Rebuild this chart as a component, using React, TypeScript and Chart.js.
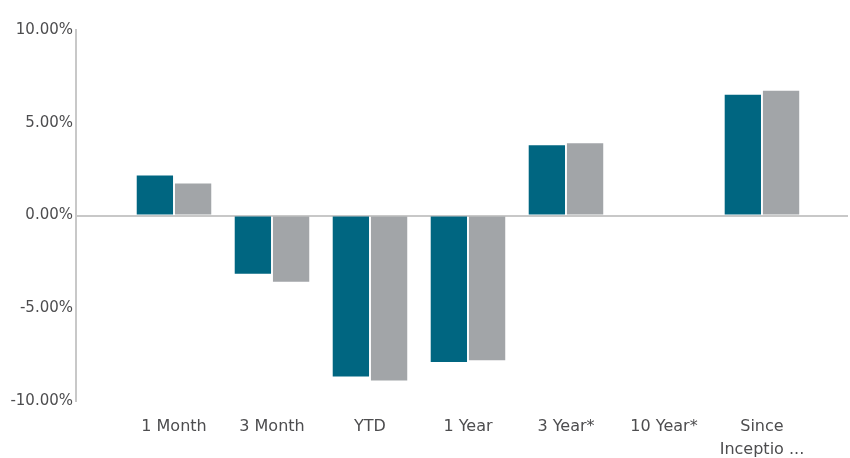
import React, { useEffect, useRef } from "react";
import { Chart, registerables } from "chart.js";

Chart.register(...registerables);

const categories: (string | string[])[] = ["1 Month", "3 Month", "YTD", "1 Year", "3 Year*", "10 Year*", ["Since", "Inceptio ..."]];
const fundValues: (number | null)[] = [2.16, -3.14, -8.68, -7.9, 3.79, null, 6.51];
const benchmarkValues: (number | null)[] = [1.73, -3.57, -8.89, -7.8, 3.9, null, 6.72];
const yTicks: number[] = [-10, -5, 0, 5, 10];

const FONT = "'DejaVu Sans', sans-serif";

export default function App() {
  const ref = useRef<HTMLCanvasElement | null>(null);
  useEffect(() => {
    document.body.style.margin = "0";
    const ctx = ref.current!;
    const toPoints = (arr: (number | null)[]) => arr.map((v, i) => ({ x: i, y: v }));
    const chart = new Chart(ctx, {
      type: "bar",
      data: {
        datasets: [
          { label: "Fund", data: toPoints(fundValues) as any, backgroundColor: "#006681", categoryPercentage: 0.78, barPercentage: 0.95 },
          { label: "Benchmark", data: toPoints(benchmarkValues) as any, backgroundColor: "#a2a5a8", categoryPercentage: 0.78, barPercentage: 0.95 },
        ],
      },
      options: {
        animation: false,
        responsive: false,
        maintainAspectRatio: false,
        layout: { padding: { top: 30, right: 2, left: 0, bottom: 0 } },
        plugins: { legend: { display: false }, tooltip: { enabled: false } },
        scales: {
          x: {
            type: "linear",
            min: -1,
            max: 6.878,
            offset: false,
            grid: { display: false, offset: false },
            border: { display: false },
            afterBuildTicks: (scale: any) => {
              scale.ticks = categories.map((_, i) => ({ value: i }));
            },
            afterFit: (scale: any) => {
              scale.height = 57;
            },
            ticks: {
              autoSkip: false,
              maxRotation: 0,
              padding: 6,
              color: "#4d4d4f",
              font: { family: FONT, size: 16, lineHeight: 1.45 },
              callback: (v: any) => categories[Math.round(Number(v))] ?? "",
            },
          },
          y: {
            min: -10,
            max: 10,
            afterBuildTicks: (scale: any) => {
              scale.ticks = yTicks.map((v) => ({ value: v }));
            },
            afterFit: (scale: any) => {
              scale.width = 76;
            },
            grid: {
              drawTicks: false,
              color: (c: any) => (c.tick && c.tick.value === 0 ? "#c8c8c8" : "transparent"),
              lineWidth: 2,
            },
            border: { display: true, color: "#c8c8c8", width: 2 },
            ticks: {
              padding: 3,
              color: "#4d4d4f",
              font: { family: FONT, size: 15 },
              callback: (v: any) => Number(v).toFixed(2) + "%",
            },
          },
        },
      },
    });
    return () => chart.destroy();
  }, []);
  return (
    <div style={{ position: "absolute", left: 0, top: 0, width: 850, height: 458 }}>
      <canvas ref={ref} width={850} height={458} style={{ width: 850, height: 458 }} />
    </div>
  );
}
